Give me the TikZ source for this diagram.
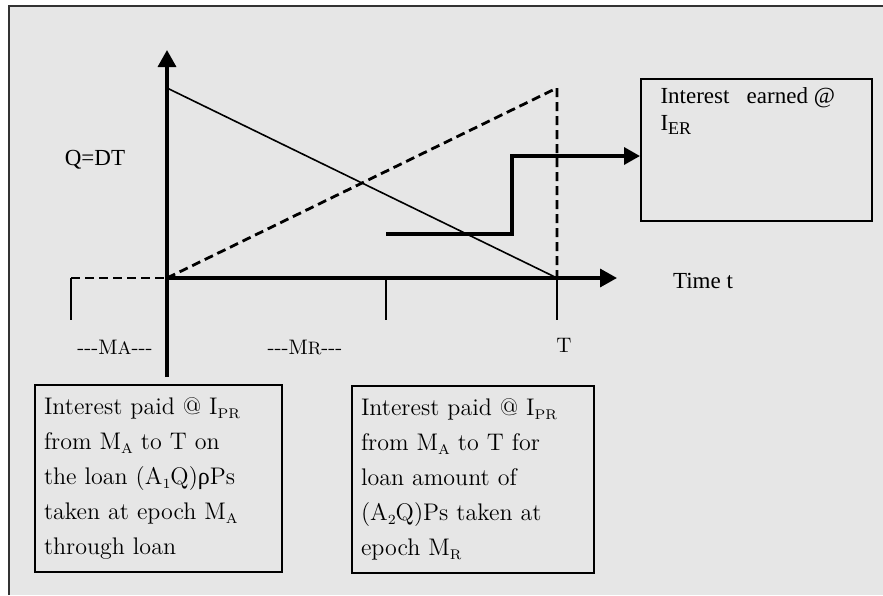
\documentclass[tikz,border=0pt]{standalone}
\usepackage{fontspec}
\usepackage{xcolor}
\usetikzlibrary{arrows.meta,positioning}

\newfontfamily\timesfont{Liberation Serif}
\definecolor{panelgray}{HTML}{E6E6E6}
\definecolor{framegray}{HTML}{333333}
\newcommand{\lowsub}[1]{\raisebox{-0.4ex}{\scriptsize #1}}
\newcommand{\capsub}[1]{{\small #1}}
\newcommand{\hyph}{-{}-{}-}

\begin{document}
\begin{tikzpicture}[
    x=0.5pt, y=-0.5pt,
    axis/.style={
      line width=1.7pt, -{Triangle[width=9pt,length=8.5pt]}
    },
    stepline/.style={
      line width=1.7pt, -{Triangle[width=8.5pt,length=8pt]}
    },
    slope/.style={line width=0.8pt},
    dashline/.style={line width=1.4pt, dash pattern=on 4.5pt off 2.5pt},
    tick/.style={line width=0.9pt},
    loanbox/.style={
      draw, line width=1pt, minimum height=93.5pt,
      inner xsep=4.5pt, align=left,
      font=\fontsize{12}{17.5}\selectfont
    },
    earnbox/.style={
      draw, line width=1pt, minimum width=115.5pt, minimum height=71pt,
      inner sep=0pt, font=\timesfont\fontsize{11.5}{13.5}\selectfont
    },
    axlabel/.style={font=\timesfont\fontsize{11.5}{13.5}\selectfont},
    eplabel/.style={font=\fontsize{10.5}{12}\selectfont, anchor=base}
  ]

    % panel
    \useasboundingbox (0,0) rectangle (883,595);
    \fill[white] (0,0) rectangle (883,595);
    \fill[panelgray] (9,6) rectangle (883,595);
    \draw[framegray, line width=1pt] (9,595) -- (9,6) -- (883,6);

    % axis points
    \coordinate (O)     at (167,278);
    \coordinate (ytop)  at (167,50);
    \coordinate (ybot)  at (167,377);
    \coordinate (xend)  at (617,278);
    \coordinate (Qtop)  at (167,88);
    \coordinate (T)     at (557,278);
    \coordinate (Ttop)  at (557,88);
    \coordinate (Tbot)  at (557,320);
    \coordinate (ma)    at (71,278);
    \coordinate (mabot) at (71,320);
    \coordinate (mr)    at (386,278);
    \coordinate (mrbot) at (386,320);

    % step points
    \coordinate (s0) at (386,234);
    \coordinate (s1) at (512,234);
    \coordinate (s2) at (512,156);

    % labels
    \node[axlabel] (qdt)  at (95,160) {Q=DT};
    \node[axlabel, anchor=west] (time) at (666,281) {Time t};
    \node[eplabel] (lma) at (115,354) {\hyph M\capsub{A}\hyph};
    \node[eplabel] (lmr) at (305,354) {\hyph M\capsub{R}\hyph};
    \node[eplabel] (lt)  at (564,352) {T};

    % boxes
    \node[earnbox] (earned) at (756.5,150)
      {\parbox[c][62pt][t]{96pt}{Interest\ \ \ earned @\\ I\raisebox{-0.3ex}{\small ER}}};
    \node[loanbox, minimum width=123.5pt, text width=114.5pt] (paidA) at (158.5,478.5)
      {Interest paid @ I\lowsub{PR}\\
       from M\lowsub{A} to T on\\
       the loan (A\lowsub{1}Q){\timesfont ρ}Ps\\
       taken at epoch M\lowsub{A}\\
       through loan};
    \node[loanbox, minimum width=121pt, text width=112pt] (paidR) at (473,479.5)
      {Interest paid @ I\lowsub{PR}\\
       from M\lowsub{A} to T for\\
       loan amount of\\
       (A\lowsub{2}Q)Ps taken at\\
       epoch M\lowsub{R}};

    % inventory lines
    \draw[slope] (Qtop) -- (T);
    \draw[dashline] (O) -- (Ttop) -- (T);
    \draw[dashline] (ma) -- (O);

    % ticks
    \draw[tick] (ma) -- (mabot);
    \draw[tick] (mr) -- (mrbot);
    \draw[tick] (T) -- (Tbot);

    % axes
    \draw[axis] (ybot) -- (ytop);
    \draw[axis] (O) -- (xend);

    % step to earned box
    \draw[stepline] (s0) -- (s1) -- (s2) -- (s2 -| earned.west);

\end{tikzpicture}
\end{document}
